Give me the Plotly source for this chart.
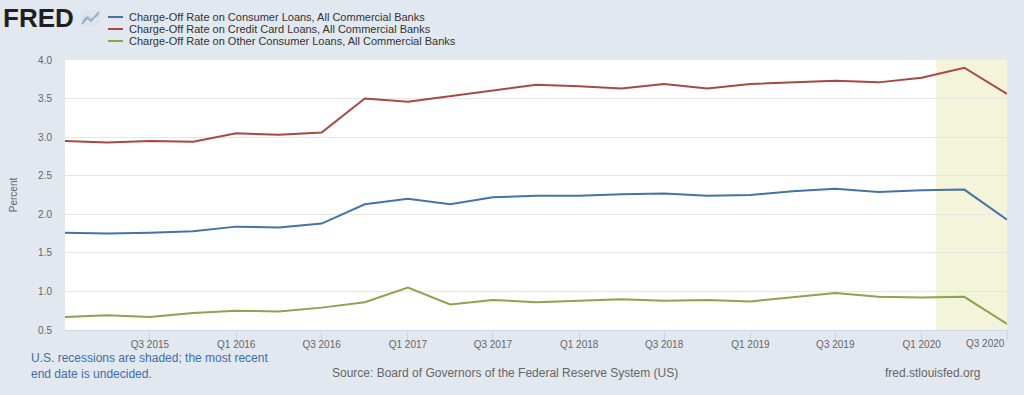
import plotly.graph_objects as go

quarters = ["2015-01-01", "2015-04-01", "2015-07-01", "2015-10-01",
            "2016-01-01", "2016-04-01", "2016-07-01", "2016-10-01",
            "2017-01-01", "2017-04-01", "2017-07-01", "2017-10-01",
            "2018-01-01", "2018-04-01", "2018-07-01", "2018-10-01",
            "2019-01-01", "2019-04-01", "2019-07-01", "2019-10-01",
            "2020-01-01", "2020-04-01", "2020-07-01"]

consumer = [1.76, 1.75, 1.76, 1.78, 1.84, 1.83, 1.88, 2.13, 2.20, 2.13, 2.22, 2.24,
            2.24, 2.26, 2.27, 2.24, 2.25, 2.30, 2.33, 2.29, 2.31, 2.32, 1.93]
credit_card = [2.95, 2.93, 2.95, 2.94, 3.05, 3.03, 3.06, 3.50, 3.46, 3.53, 3.60, 3.68,
               3.66, 3.63, 3.69, 3.63, 3.69, 3.71, 3.73, 3.71, 3.77, 3.90, 3.56]
other_consumer = [0.67, 0.69, 0.67, 0.72, 0.75, 0.74, 0.79, 0.86, 1.05, 0.83, 0.89, 0.86,
                  0.88, 0.90, 0.88, 0.89, 0.87, 0.92, 0.98, 0.93, 0.92, 0.93, 0.58]

series_names = ["Charge-Off Rate on Consumer Loans, All Commercial Banks",
                "Charge-Off Rate on Credit Card Loans, All Commercial Banks",
                "Charge-Off Rate on Other Consumer Loans, All Commercial Banks"]
series_colors = ["#4572a7", "#aa4643", "#89a54e"]

tick_vals = ["2015-07-01", "2016-01-01", "2016-07-01", "2017-01-01", "2017-07-01",
             "2018-01-01", "2018-07-01", "2019-01-01", "2019-07-01", "2020-01-01"]
tick_text = ["Q3 2015", "Q1 2016", "Q3 2016", "Q1 2017", "Q3 2017",
             "Q1 2018", "Q3 2018", "Q1 2019", "Q3 2019", "Q1 2020"]
last_tick_val = "2020-07-01"
last_tick_text = "Q3 2020"

recession_start = "2020-02-01"
recession_end = "2020-07-01"

W, H = 1024, 395
L, R, T, B = 65, 1007, 60, 330


def px(x):
    return (x - L) / (R - L)


def py(y):
    return (B - y) / (B - T)


FONT = "Liberation Sans, Arial, sans-serif"

fig = go.Figure()
for vals, name, col in zip([consumer, credit_card, other_consumer], series_names, series_colors):
    fig.add_trace(go.Scatter(x=quarters, y=vals, mode="lines", name=name,
                             line=dict(color=col, width=2), showlegend=False,
                             hoverinfo="x+y"))

fig.add_shape(type="rect", xref="x", yref="paper", x0=recession_start, x1=recession_end,
              y0=0, y1=1, fillcolor="#f3f4da", line=dict(width=0), layer="below")

annotations = []
shapes = []
# manual legend
for i, (name, col) in enumerate(zip(series_names, series_colors)):
    yc = 17 + 12 * i
    shapes.append(dict(type="line", xref="paper", yref="paper",
                       x0=px(108), x1=px(123), y0=py(yc), y1=py(yc),
                       line=dict(color=col, width=2)))
    annotations.append(dict(text=name, xref="paper", yref="paper", x=px(127), y=py(yc),
                            xanchor="left", yanchor="middle", showarrow=False,
                            font=dict(family=FONT, size=11, color="#333333")))

# FRED logo
annotations.append(dict(text="<b>FRED</b>", xref="paper", yref="paper", x=px(1), y=py(18),
                        xanchor="left", yanchor="middle", showarrow=False,
                        font=dict(family="Liberation Sans, Arial", size=26, color="#231f20")))
shapes.append(dict(type="rect", xref="paper", yref="paper", x0=px(81), x1=px(100),
                   y0=py(26), y1=py(10), fillcolor="#dfe4ea", line=dict(width=0)))
shapes.append(dict(type="path", xref="paper", yref="paper",
                   path="M %f,%f L %f,%f L %f,%f L %f,%f" % (px(82), py(24), px(87), py(18), px(91), py(21), px(99), py(12)),
                   line=dict(color="#7ea4cc", width=1.5)))
shapes.append(dict(type="path", xref="paper", yref="paper",
                   path="M %f,%f L %f,%f L %f,%f L %f,%f" % (px(82), py(21), px(87), py(16), px(92), py(19), px(99), py(15)),
                   line=dict(color="#aab6c4", width=1)))

# last tick label
annotations.append(dict(text=last_tick_text, xref="x", yref="paper", x=last_tick_val, y=py(343),
                        xanchor="right", yanchor="middle", showarrow=False,
                        font=dict(family=FONT, size=10, color="#666666")))

# footer
annotations.append(dict(text="U.S. recessions are shaded; the most recent<br>end date is undecided.",
                        xref="paper", yref="paper", x=px(29), y=py(366), xanchor="left",
                        yanchor="middle", align="left", showarrow=False,
                        font=dict(family=FONT, size=12, color="#3d6ea8")))
annotations.append(dict(text="Source: Board of Governors of the Federal Reserve System (US)",
                        xref="paper", yref="paper", x=px(330), y=py(373), xanchor="left",
                        yanchor="middle", showarrow=False,
                        font=dict(family=FONT, size=12, color="#666666")))
annotations.append(dict(text="fred.stlouisfed.org",
                        xref="paper", yref="paper", x=px(883), y=py(373), xanchor="left",
                        yanchor="middle", showarrow=False,
                        font=dict(family=FONT, size=12, color="#666666")))

fig.update_layout(
    width=W, height=H,
    margin=dict(l=L, r=W - R, t=T, b=H - B, pad=0),
    paper_bgcolor="#e1e8f0",
    plot_bgcolor="#ffffff",
    font=dict(family=FONT, size=10, color="#666666"),
    annotations=annotations,
    shapes=list(fig.layout.shapes) + shapes,
    hovermode="x unified",
)

fig.update_xaxes(
    type="date",
    range=[quarters[0], quarters[-1]],
    tickmode="array", tickvals=tick_vals, ticktext=tick_text,
    ticks="", showgrid=False, zeroline=False,
    showline=True, linecolor="#ccd6eb", linewidth=1,
    tickfont=dict(family=FONT, size=10, color="#666666"),
    ticklabelstandoff=5,
    minor=dict(tickmode="array", tickvals=tick_vals + [last_tick_val], ticks="outside",
               ticklen=9, tickcolor="#ccd6eb", tickwidth=1, showgrid=False),
)

fig.update_yaxes(
    range=[0.5, 4.0], tickmode="array",
    tickvals=[0.5, 1.0, 1.5, 2.0, 2.5, 3.0, 3.5, 4.0],
    ticktext=["0.5", "1.0", "1.5", "2.0", "2.5", "3.0", "3.5", "4.0"],
    showgrid=True, gridcolor="#e6e6e6", gridwidth=1, zeroline=False,
    ticks="", ticklabelstandoff=12,
    tickfont=dict(family=FONT, size=10, color="#666666"),
    title=dict(text="Percent", font=dict(family=FONT, size=10, color="#666666"), standoff=18),
)

fig.write_html("out.html", config={"displayModeBar": False},
               post_script="document.body.style.margin='0';document.body.style.background='#e1e8f0';")
